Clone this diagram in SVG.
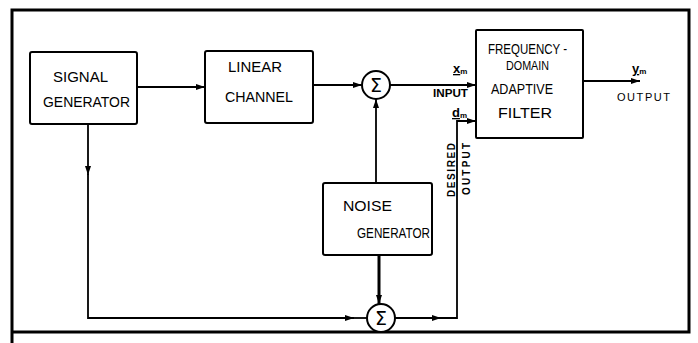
<svg xmlns="http://www.w3.org/2000/svg" width="698" height="343" viewBox="0 0 698 343">
<style>
.box{fill:#fff;stroke:#000;stroke-width:2}
.ln{fill:none;stroke:#000;stroke-width:1.8}
.t{font-family:"Liberation Sans",Arial,sans-serif;font-size:14.5px;fill:#000}
.s{font-family:"Liberation Sans",Arial,sans-serif;font-size:10px;fill:#000;font-weight:bold}
.sig{font-family:"DejaVu Sans","Liberation Sans",sans-serif;font-size:19px;fill:#000;text-anchor:middle}
.lab{font-family:"Liberation Sans",Arial,sans-serif;font-size:13px;font-weight:bold;fill:#000}
</style>
<defs>
<marker id="ah" markerUnits="userSpaceOnUse" markerWidth="10" markerHeight="8" refX="9" refY="3" orient="auto">
<path d="M0,0 L9,3 L0,6 Z" fill="#000"/>
</marker>
</defs>
<rect width="698" height="343" fill="#fff"/>
<g id="frame">
<path d="M12,343 V10 H689 V332 H12" fill="none" stroke="#000" stroke-width="3"/>
</g>
<g id="connectors">
<path class="ln" d="M137,87 H205" marker-end="url(#ah)"/>
<path class="ln" d="M313,85 H362" marker-end="url(#ah)"/>
<path class="ln" d="M390,85 H476" marker-end="url(#ah)"/>
<path class="ln" d="M583,81 H640" marker-end="url(#ah)"/>
<path class="ln" d="M376,183 V99" marker-end="url(#ah)"/>
<path class="ln" d="M379,255 V304" style="stroke-width:3" marker-end="url(#ah)"/>
<path class="ln" d="M88,124 V175" marker-end="url(#ah)"/>
<path class="ln" d="M88,174 V318 H354" marker-end="url(#ah)"/>
<path class="ln" d="M353,318 H367"/>
<path class="ln" d="M395,318 H441" marker-end="url(#ah)"/>
<path class="ln" d="M440,318 H457 V121 H476" marker-end="url(#ah)"/>
</g>
<g id="signal-generator">
<rect class="box" x="30" y="52" width="107" height="72" rx="2"/>
<text class="t" x="53" y="82" textLength="55" lengthAdjust="spacingAndGlyphs">SIGNAL</text>
<text class="t" x="43" y="107" textLength="87" lengthAdjust="spacingAndGlyphs">GENERATOR</text>
</g>
<g id="linear-channel">
<rect class="box" x="205" y="51" width="108" height="72" rx="2"/>
<text class="t" x="228" y="72" textLength="54" lengthAdjust="spacingAndGlyphs">LINEAR</text>
<text class="t" x="225" y="102" textLength="68" lengthAdjust="spacingAndGlyphs">CHANNEL</text>
</g>
<g id="sum1">
<circle cx="376" cy="85" r="14" fill="#fff" stroke="#000" stroke-width="2"/>
<text class="sig" x="376" y="92">Σ</text>
</g>
<g id="noise-generator">
<rect class="box" x="323" y="183" width="109" height="72" rx="2"/>
<text class="t" x="343" y="211" textLength="49" lengthAdjust="spacingAndGlyphs">NOISE</text>
<text class="t" x="357" y="238" textLength="73" lengthAdjust="spacingAndGlyphs">GENERATOR</text>
</g>
<g id="sum2">
<circle cx="381" cy="318" r="14" fill="#fff" stroke="#000" stroke-width="2"/>
<text class="sig" x="381" y="325">Σ</text>
</g>
<g id="adaptive-filter">
<rect class="box" x="476" y="30" width="107" height="108" rx="1"/>
<text class="t" x="488" y="54" textLength="79" lengthAdjust="spacingAndGlyphs">FREQUENCY -</text>
<text class="t" x="506" y="70" style="font-size:12px" textLength="43" lengthAdjust="spacingAndGlyphs">DOMAIN</text>
<text class="t" x="491" y="94" textLength="62" lengthAdjust="spacingAndGlyphs">ADAPTIVE</text>
<text class="t" x="498" y="118" textLength="54" lengthAdjust="spacingAndGlyphs">FILTER</text>
</g>
<g id="labels">
<text class="lab" x="453" y="73"><tspan text-decoration="underline">x</tspan><tspan font-size="8" dy="1">m</tspan></text>
<text class="s" x="433" y="97" textLength="35" lengthAdjust="spacingAndGlyphs">INPUT</text>
<text class="lab" x="452" y="117"><tspan text-decoration="underline">d</tspan><tspan font-size="8" dy="1">m</tspan></text>
<text class="lab" x="632" y="73"><tspan text-decoration="underline">y</tspan><tspan font-size="8" dy="1">m</tspan></text>
<text class="s" x="617" y="101" style="font-size:11px;font-weight:normal" textLength="53" lengthAdjust="spacing">OUTPUT</text>
<text class="s" transform="translate(455,197) rotate(-90)" textLength="54" lengthAdjust="spacing">DESIRED</text>
<text class="s" transform="translate(470,195) rotate(-90)" textLength="52" lengthAdjust="spacing">OUTPUT</text>
</g>
</svg>
